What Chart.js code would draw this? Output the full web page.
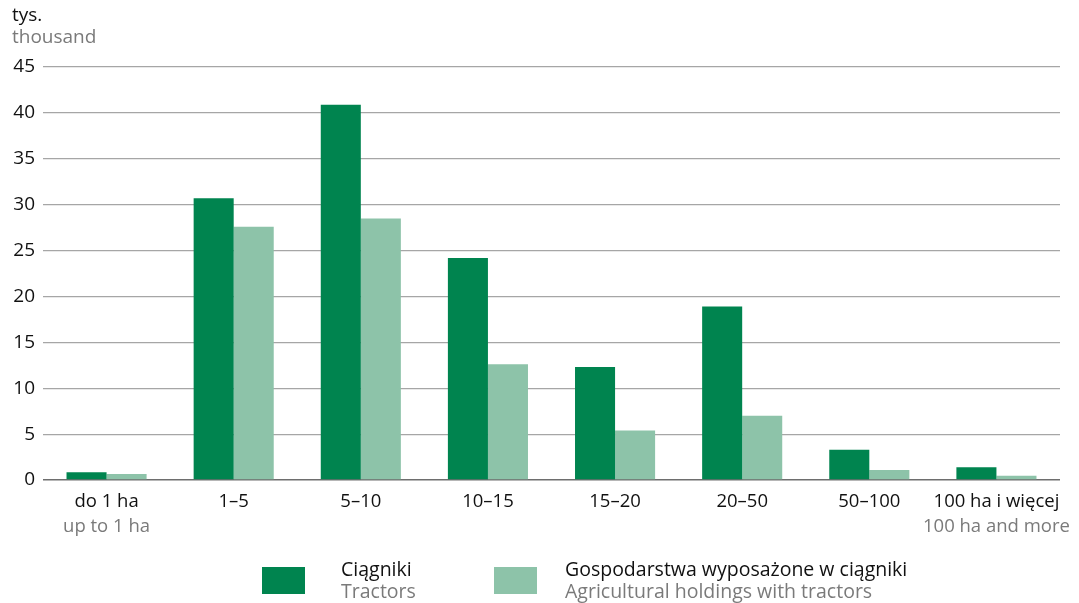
<!DOCTYPE html>
<html>
<head>
<meta charset="utf-8">
<script src="https://cdn.jsdelivr.net/npm/chart.js@4"></script>
<style>
  body { margin: 0; background: #fff; font-family: "Open Sans", sans-serif; }
  #wrap { position: relative; width: 1079px; height: 603px; }
  #unit { position: absolute; left: 12px; top: 3px; font-size: 19px; line-height: 22px; color: #111; }
  #unit .en { color: #7a7a7a; }
  .leg { position: absolute; top: 558px; font-size: 19.5px; line-height: 22px; color: #111; }
  .leg .sw { position: absolute; left: 0; top: 9px; width: 43px; height: 27px; }
  .leg .txt { position: absolute; white-space: nowrap; top: 0; }
  .leg .en { color: #7a7a7a; }
</style>
</head>
<body>
<div id="wrap">
  <canvas id="c" width="1079" height="603"></canvas>
  <div id="unit">tys.<br><span class="en">thousand</span></div>
  <div class="leg" style="left:262px"><div class="sw" style="background:#00844f"></div><div class="txt" style="left:79px">Ciągniki<br><span class="en">Tractors</span></div></div>
  <div class="leg" style="left:494px"><div class="sw" style="background:#8dc3a9"></div><div class="txt" style="left:71px">Gospodarstwa wyposażone w ciągniki<br><span class="en">Agricultural holdings with tractors</span></div></div>
</div>
<script>
// categories (two-line labels: Polish / English)
const categoriesPl = ['do 1 ha', '1–5', '5–10', '10–15', '15–20', '20–50', '50–100', '100 ha i więcej'];
const categoriesEn = ['up to 1 ha', '', '', '', '', '', '', '100 ha and more'];

// thousands
const tractors = [0.85, 30.7, 40.9, 24.2, 12.3, 18.9, 3.3, 1.4];
const holdings = [0.65, 27.6, 28.5, 12.6, 5.4, 7.0, 1.1, 0.45];

const yTicks = [0, 5, 10, 15, 20, 25, 30, 35, 40, 45];

// draw two-line x labels with different colours
const xLabels = {
    id: 'xLabels',
    afterDraw(chart) {
        const ctx = chart.ctx;
        const xs = chart.scales.x;
        ctx.save();
        ctx.font = '18.5px "Open Sans", sans-serif';
        ctx.textAlign = 'center';
        ctx.textBaseline = 'middle';
        categoriesPl.forEach((lab, i) => {
            const x = xs.getPixelForTick(i);
            ctx.fillStyle = '#111';
            ctx.fillText(lab, x, 502);
            if(categoriesEn[i]) {
                ctx.fillStyle = '#7a7a7a';
                ctx.fillText(categoriesEn[i], x, 527);
            }
        });
        ctx.restore();
    }
};

new Chart(document.getElementById('c'), {
    type: 'bar',
    data: {
        labels: categoriesPl,
        datasets: [{
            label: 'Ciągniki',
            data: tractors,
            backgroundColor: '#00844f'
        }, {
            label: 'Gospodarstwa wyposażone w ciągniki',
            data: holdings,
            backgroundColor: '#8dc3a9'
        }]
    },
    options: {
        responsive: false,
        animation: false,
        layout: { padding: { top: 67, right: 19, bottom: 0, left: 0 } },
        plugins: { legend: { display: false }, tooltip: { enabled: false } },
        datasets: { bar: { categoryPercentage: 0.63, barPercentage: 1 } },
        scales: {
            x: {
                grid: { display: false },
                border: { display: false },
                ticks: { display: false },
                afterFit: s => { s.height = 123; }
            },
            y: {
                min: 0,
                max: 45,
                afterBuildTicks: s => { s.ticks = yTicks.map(v => ({ value: v })); },
                afterFit: s => { s.width = 43; },
                border: { display: false },
                grid: {
                    drawTicks: false,
                    color: c => c.tick.value === 0 ? '#6e6e6e' : '#a6a6a6',
                    lineWidth: c => c.tick.value === 0 ? 1.5 : 1.2
                },
                ticks: {
                    padding: 8,
                    color: '#111',
                    font: { family: '"Open Sans", sans-serif', size: 19 }
                }
            }
        }
    },
    plugins: [xLabels]
});
</script>
</body>
</html>
